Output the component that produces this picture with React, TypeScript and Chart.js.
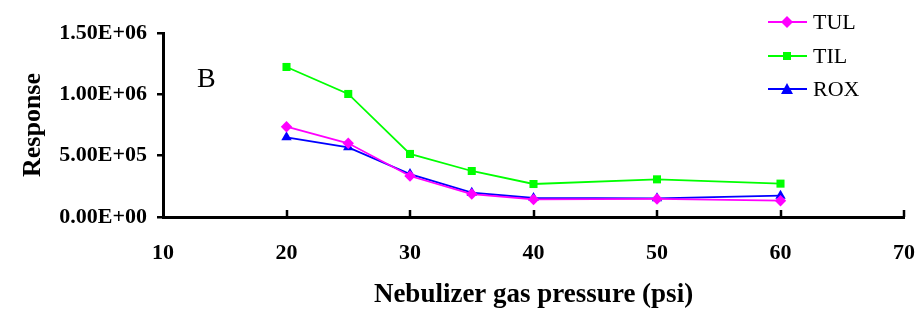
import React, { useEffect, useRef } from "react";
import { Chart, registerables } from "chart.js";

Chart.register(...registerables);

const pressures = [20, 25, 30, 35, 40, 50, 60];
const tulValues = [736000, 601000, 334000, 187000, 143000, 147000, 133000];
const tilValues = [1223000, 1003000, 514000, 375000, 269000, 307000, 272000];
const roxValues = [650000, 568000, 350000, 198000, 155000, 152000, 174000];
const seriesNames = ["TUL", "TIL", "ROX"];
const seriesColors = ["#ff00ff", "#00ff00", "#0000ff"];
const seriesMarkers = ["rectRot", "rect", "triangle"];
const xTicks = [10, 20, 30, 40, 50, 60, 70];
const panelLabel = "B";

const SERIF = "'Liberation Serif', 'Times New Roman', serif";

function fmtExp(v: number): string {
  if (v === 0) return "0.00E+00";
  const e = Math.floor(Math.log10(Math.abs(v)));
  const m = v / Math.pow(10, e);
  return m.toFixed(2) + "E+" + String(e).padStart(2, "0");
}

const extrasPlugin = {
  id: "extras",
  afterDraw(chart: any) {
    const ctx = chart.ctx;
    const x = chart.scales.x;
    const area = chart.chartArea;
    ctx.save();
    // inward x ticks
    ctx.strokeStyle = "#000";
    ctx.lineWidth = 2.5;
    xTicks.forEach((t) => {
      if (t === xTicks[0]) return;
      const px = Math.round(x.getPixelForValue(t));
      ctx.beginPath();
      ctx.moveTo(px, area.bottom);
      ctx.lineTo(px, area.bottom - 7);
      ctx.stroke();
    });
    // panel label
    ctx.fillStyle = "#000";
    ctx.font = `28px ${SERIF}`;
    ctx.textAlign = "left";
    ctx.textBaseline = "middle";
    ctx.fillText(panelLabel, 197, 80);
    // legend
    const rows = [22, 56, 89];
    chart.data.datasets.forEach((ds: any, i: number) => {
      const y = rows[i];
      ctx.strokeStyle = ds.borderColor;
      ctx.lineWidth = 1.8;
      ctx.beginPath();
      ctx.moveTo(768, y);
      ctx.lineTo(807, y);
      ctx.stroke();
      ctx.fillStyle = ds.borderColor;
      const cx = 787;
      const r = 5;
      ctx.beginPath();
      if (ds.pointStyle === "rectRot") {
        ctx.moveTo(cx, y - r - 1);
        ctx.lineTo(cx + r + 1, y);
        ctx.lineTo(cx, y + r + 1);
        ctx.lineTo(cx - r - 1, y);
        ctx.closePath();
      } else if (ds.pointStyle === "rect") {
        ctx.rect(cx - r + 1, y - r + 1, 2 * r - 2, 2 * r - 2);
      } else {
        ctx.moveTo(cx, y - r - 1);
        ctx.lineTo(cx + r + 1, y + r);
        ctx.lineTo(cx - r - 1, y + r);
        ctx.closePath();
      }
      ctx.fill();
      ctx.fillStyle = "#000";
      ctx.font = `22px ${SERIF}`;
      ctx.textBaseline = "middle";
      ctx.fillText(ds.label, 813, y + 1);
    });
    ctx.restore();
  },
};

export default function App() {
  const ref = useRef<HTMLCanvasElement>(null);
  useEffect(() => {
    if (!ref.current) return;
    const allValues = [tulValues, tilValues, roxValues];
    const chart = new Chart(ref.current, {
      type: "line",
      data: {
        datasets: seriesNames.map((name, i) => ({
          label: name,
          data: pressures.map((p, j) => ({ x: p, y: allValues[i][j] })),
          borderColor: seriesColors[i],
          backgroundColor: seriesColors[i],
          pointStyle: seriesMarkers[i] as any,
          pointRadius: i === 2 ? 6 : 5.7,
          pointBorderWidth: 0,
          borderWidth: 1.8,
          tension: 0,
        })),
      },
      options: {
        animation: false,
        responsive: false,
        layout: { padding: { left: 8, right: 16, top: 33, bottom: 8 } },
        plugins: {
          legend: { display: false },
          tooltip: { enabled: false },
        },
        scales: {
          x: {
            type: "linear",
            min: 10,
            max: 70,
            afterBuildTicks: (s: any) => {
              s.ticks = xTicks.map((v) => ({ value: v }));
            },
            afterFit: (s: any) => {
              s.height = 319 - 217 - 8;
              s.paddingLeft = 0;
              s.paddingRight = 0;
            },
            grid: { display: false, drawTicks: false },
            border: { display: true, color: "#000", width: 3 },
            ticks: {
              color: "#000",
              padding: 23,
              maxRotation: 0,
              font: { family: SERIF, size: 22, weight: "bold" },
            },
            title: {
              display: true,
              text: "Nebulizer gas pressure (psi)",
              color: "#000",
              font: { family: SERIF, size: 27, weight: "bold" },
              padding: { top: 6, bottom: 0 },
            },
          },
          y: {
            min: 0,
            max: 1500000,
            afterFit: (s: any) => {
              s.width = 155;
              s.paddingTop = 0;
              s.paddingBottom = 0;
            },
            ticks: {
              stepSize: 500000,
              color: "#000",
              padding: 10,
              font: { family: SERIF, size: 22, weight: "bold" },
              callback: (v: any) => fmtExp(Number(v)),
            },
            grid: {
              drawOnChartArea: false,
              drawTicks: true,
              tickLength: 6,
              color: "#000",
              lineWidth: 2.5,
            },
            border: { display: true, color: "#000", width: 3 },
            title: {
              display: true,
              text: "Response",
              color: "#000",
              font: { family: SERIF, size: 26, weight: "bold" },
              padding: { top: 10, bottom: 0 },
            },
          },
        },
      },
      plugins: [extrasPlugin],
    });
    return () => chart.destroy();
  }, []);
  return (
    <div style={{ position: "fixed", left: 0, top: 0, width: 920, height: 319, background: "#fff" }}>
      <canvas ref={ref} width={920} height={319} style={{ width: 920, height: 319 }} />
    </div>
  );
}
